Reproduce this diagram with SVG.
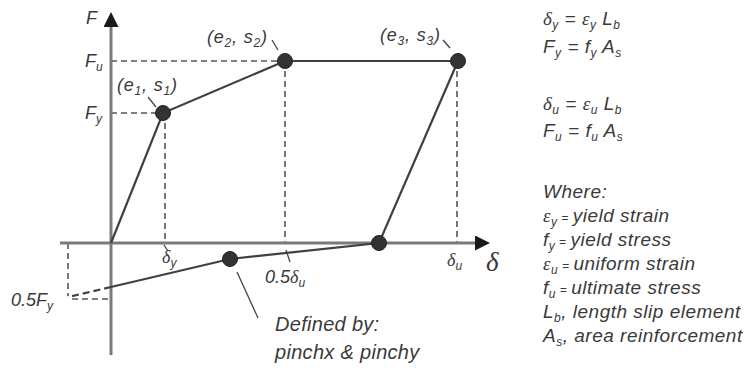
<svg xmlns="http://www.w3.org/2000/svg" width="754" height="372" viewBox="0 0 754 372">
<defs>
<style>
.t{font-family:"Liberation Sans",Arial,sans-serif;font-style:italic;fill:#3a3a3a;font-size:18px}
.g{font-family:"Liberation Serif","Times New Roman",serif;font-style:italic}
.s{font-size:12px}
.lg{font-size:19px;letter-spacing:0.5px}
.axis{stroke:#7a7a7a;stroke-width:3;fill:none}
.curve{stroke:#404040;stroke-width:2.2;fill:none}
.dash{stroke:#555;stroke-width:1.6;stroke-dasharray:6 4;fill:none}
.lead{stroke:#444;stroke-width:1.3;fill:none}
.dot{fill:#333;stroke:#222;stroke-width:1}
</style>
<marker id="arr" viewBox="0 0 10 10" refX="2" refY="5" markerWidth="5" markerHeight="5" orient="auto" markerUnits="strokeWidth">
<path d="M0,0 L10,5 L0,10 z" fill="#1a1a1a"/>
</marker>
</defs>
<rect width="754" height="372" fill="#fff"/>

<g id="connectors">
<line class="dash" x1="111" y1="61" x2="285" y2="61"/>
<line class="dash" x1="111" y1="113" x2="163" y2="113"/>
<line class="dash" x1="165" y1="113" x2="165" y2="243"/>
<line class="dash" x1="285" y1="61" x2="285" y2="243"/>
<line class="dash" x1="457" y1="61" x2="457" y2="243"/>
<line class="dash" x1="68" y1="243" x2="68" y2="296"/>
<line class="dash" x1="72" y1="299" x2="111" y2="299"/>
<line class="axis" x1="111" y1="355" x2="111" y2="24" marker-end="url(#arr)"/>
<line class="axis" x1="60" y1="243" x2="478" y2="243" marker-end="url(#arr)"/>
<polyline class="curve" points="111,243 163,113 285,61 458,61 379,243 230,259 111,287"/>
<line class="curve" x1="111" y1="287" x2="68" y2="297" stroke-dasharray="7 4"/>
<line class="lead" x1="148" y1="97" x2="156" y2="107"/>
<line class="lead" x1="272" y1="40" x2="278" y2="50"/>
<line class="lead" x1="443" y1="40" x2="450" y2="48"/>
<line class="lead" x1="237" y1="272" x2="258" y2="318"/>
<line class="lead" x1="164" y1="245" x2="168" y2="251"/>
<line class="lead" x1="286" y1="250" x2="290" y2="262"/>
</g>

<g id="node-e1s1"><circle class="dot" cx="163" cy="113" r="7.5"/><text class="t" x="117" y="91" letter-spacing="0.8">(e<tspan class="s" dy="4">1</tspan><tspan dy="-4">, s</tspan><tspan class="s" dy="4">1</tspan><tspan dy="-4">)</tspan></text></g>
<g id="node-e2s2"><circle class="dot" cx="285" cy="61" r="7.5"/><text class="t" x="207" y="43" letter-spacing="0.8">(e<tspan class="s" dy="4">2</tspan><tspan dy="-4">, s</tspan><tspan class="s" dy="4">2</tspan><tspan dy="-4">)</tspan></text></g>
<g id="node-e3s3"><circle class="dot" cx="458" cy="61" r="7.5"/><text class="t" x="380" y="41" letter-spacing="0.8">(e<tspan class="s" dy="4">3</tspan><tspan dy="-4">, s</tspan><tspan class="s" dy="4">3</tspan><tspan dy="-4">)</tspan></text></g>
<g id="node-zero"><circle class="dot" cx="379" cy="243" r="7.5"/></g>
<g id="node-pinch"><circle class="dot" cx="230" cy="259" r="7.5"/></g>

<g id="labels">
<text class="t" x="86" y="24">F</text>
<text class="t" x="85" y="67">F<tspan class="s" dy="4">u</tspan></text>
<text class="t" x="85" y="119">F<tspan class="s" dy="4">y</tspan></text>
<text class="t" x="162" y="263"><tspan class="g">δ</tspan><tspan class="s" dy="4">y</tspan></text>
<text class="t" x="265" y="283">0.5<tspan class="g">δ</tspan><tspan class="s" dy="4">u</tspan></text>
<text class="t" x="447" y="266"><tspan class="g">δ</tspan><tspan class="s" dy="4">u</tspan></text>
<text class="t g" x="486" y="271" style="font-size:27px">δ</text>
<text class="t" x="11" y="306">0.5F<tspan class="s" dy="4">y</tspan></text>
<text class="t" x="275" y="331" style="font-size:20px" letter-spacing="0.3">Defined by:</text>
<text class="t" x="275" y="359" style="font-size:20px" letter-spacing="0.3">pinchx &amp; pinchy</text>
</g>

<g id="legend">
<text class="t lg" x="543" y="25"><tspan class="g">δ</tspan><tspan class="s" dy="4">y</tspan><tspan dy="-4"> = </tspan><tspan class="g">ε</tspan><tspan class="s" dy="4">y</tspan><tspan dy="-4"> L</tspan><tspan class="s" dy="4">b</tspan></text>
<text class="t lg" x="543" y="53">F<tspan class="s" dy="4">y</tspan><tspan dy="-4"> = f</tspan><tspan class="s" dy="4">y</tspan><tspan dy="-4"> A</tspan><tspan class="s" dy="4">s</tspan></text>
<text class="t lg" x="543" y="110"><tspan class="g">δ</tspan><tspan class="s" dy="4">u</tspan><tspan dy="-4"> = </tspan><tspan class="g">ε</tspan><tspan class="s" dy="4">u</tspan><tspan dy="-4"> L</tspan><tspan class="s" dy="4">b</tspan></text>
<text class="t lg" x="543" y="137">F<tspan class="s" dy="4">u</tspan><tspan dy="-4"> = f</tspan><tspan class="s" dy="4">u</tspan><tspan dy="-4"> A</tspan><tspan class="s" dy="4">s</tspan></text>
<text class="t lg" x="543" y="198">Where:</text>
<text class="t lg" x="543" y="222"><tspan class="g">ε</tspan><tspan class="s" dy="4">y</tspan><tspan class="s" dy="-4"> = </tspan>yield strain</text>
<text class="t lg" x="543" y="246">f<tspan class="s" dy="4">y</tspan><tspan class="s" dy="-4"> = </tspan>yield stress</text>
<text class="t lg" x="543" y="270"><tspan class="g">ε</tspan><tspan class="s" dy="4">u</tspan><tspan class="s" dy="-4"> = </tspan>uniform strain</text>
<text class="t lg" x="543" y="294">f<tspan class="s" dy="4">u</tspan><tspan class="s" dy="-4"> = </tspan>ultimate stress</text>
<text class="t lg" x="543" y="318">L<tspan class="s" dy="4">b</tspan><tspan dy="-4">, length slip element</tspan></text>
<text class="t lg" x="543" y="342">A<tspan class="s" dy="4">s</tspan><tspan dy="-4">, area reinforcement</tspan></text>
</g>
</svg>
